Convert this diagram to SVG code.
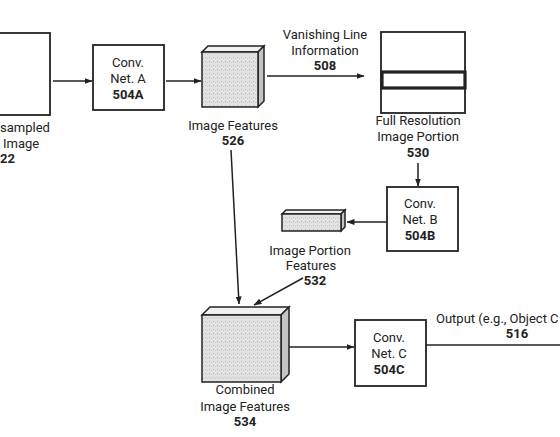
<svg xmlns="http://www.w3.org/2000/svg" width="560" height="437" viewBox="0 0 560 437">
<defs>
<marker id="ah" markerWidth="8" markerHeight="6" refX="7.5" refY="3" orient="auto" markerUnits="userSpaceOnUse">
<path d="M0,0 L8,3 L0,6 Z" fill="#222"/>
</marker>
<pattern id="stip" width="4" height="4" patternUnits="userSpaceOnUse">
<rect width="4" height="4" fill="#e2e2e2"/>
<rect x="1" y="1" width="1" height="1" fill="#b8b8b8"/>
<rect x="3" y="2" width="1" height="1" fill="#c8c8c8"/>
</pattern>
</defs>
<style>
text{font-family:Roboto,"Liberation Sans",sans-serif;font-size:13px;fill:#222;text-anchor:middle}
.b{font-weight:bold}
.box{fill:#fff;stroke:#222;stroke-width:1.8}
.front{fill:url(#stip);stroke:#222;stroke-width:1.5}
.top{fill:#f0f0f0;stroke:#222;stroke-width:1.5}
.side{fill:#c4c4c4;stroke:#222;stroke-width:1.5}
.ln{stroke:#222;stroke-width:1.5;fill:none}
.arr{stroke:#222;stroke-width:1.5;fill:none;marker-end:url(#ah)}
</style>
<rect width="560" height="437" fill="#fff"/>

<g id="downsampled">
<rect class="box" x="-10" y="33" width="60" height="82"/>
<text x="0" y="132" style="text-anchor:start">sampled</text>
<text x="3" y="148" style="text-anchor:start">Image</text>
<text class="b" x="0" y="163" style="text-anchor:start">22</text>
</g>

<g id="convA">
<rect class="box" x="93" y="45" width="71" height="65"/>
<text x="128" y="67">Conv.</text>
<text x="128" y="83">Net. A</text>
<text class="b" x="128" y="99">504A</text>
</g>

<g id="features526">
<polygon class="top" points="202,52 208,46 264,46 258,52"/>
<polygon class="side" points="258,52 264,46 264,101 258,107"/>
<rect class="front" x="202" y="52" width="56" height="55"/>
<text x="233" y="130">Image Features</text>
<text class="b" x="233" y="145">526</text>
</g>

<g id="fullres">
<rect class="box" x="381" y="32" width="84" height="81"/>
<rect x="382" y="72" width="83" height="16" fill="none" stroke="#222" stroke-width="3.2"/>
<text x="418" y="125">Full Resolution</text>
<text x="418" y="141">Image Portion</text>
<text class="b" x="418" y="157">530</text>
</g>

<g id="convB">
<rect class="box" x="387" y="187" width="71" height="64"/>
<text x="420" y="208">Conv.</text>
<text x="420" y="224">Net. B</text>
<text class="b" x="420" y="240">504B</text>
</g>

<g id="features532">
<polygon class="top" points="282,214 286,210 345,210 341,214"/>
<polygon class="side" points="341,214 345,210 345,227 341,231"/>
<rect class="front" x="282" y="214" width="59" height="17"/>
<text x="310" y="255">Image Portion</text>
<text x="311" y="270">Features</text>
<text class="b" x="315" y="285">532</text>
</g>

<g id="combined534">
<polygon class="top" points="202,315 210,307 289,307 281,315"/>
<polygon class="side" points="281,315 289,307 289,374 281,382"/>
<rect class="front" x="202" y="315" width="79" height="67"/>
<text x="245" y="394">Combined</text>
<text x="245" y="411">Image Features</text>
<text class="b" x="245" y="426">534</text>
</g>

<g id="convC">
<rect class="box" x="355" y="320" width="71" height="66"/>
<text x="389" y="342">Conv.</text>
<text x="389" y="358">Net. C</text>
<text class="b" x="389" y="374">504C</text>
</g>

<g id="labels">
<text x="325" y="39">Vanishing Line</text>
<text x="325" y="55">Information</text>
<text class="b" x="325" y="70">508</text>
<text x="436" y="323" style="text-anchor:start">Output (e.g., Object C</text>
<text class="b" x="517" y="338">516</text>
</g>

<g id="connectors">
<line class="arr" x1="53" y1="81" x2="92" y2="81"/>
<line class="arr" x1="166" y1="81" x2="201" y2="81"/>
<line class="arr" x1="267" y1="76" x2="364" y2="76"/>
<line class="arr" x1="418" y1="163" x2="418" y2="186"/>
<line class="arr" x1="387" y1="222" x2="347" y2="222"/>
<line class="arr" x1="231" y1="150" x2="239" y2="304"/>
<line class="arr" x1="303" y1="278" x2="254" y2="305"/>
<line class="arr" x1="289" y1="347" x2="354" y2="347"/>
<line class="ln" x1="426" y1="345" x2="560" y2="345"/>
</g>
</svg>
